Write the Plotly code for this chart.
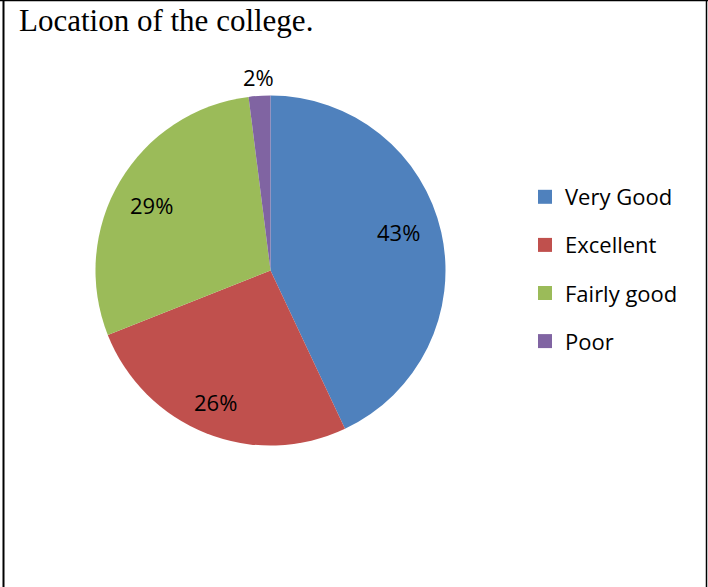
import math
import plotly.graph_objects as go

# ---- data ----
categories = ["Very Good", "Excellent", "Fairly good", "Poor"]
values = [43, 26, 29, 2]
colors = ["#4F81BD", "#C0504D", "#9BBB59", "#8064A2"]
title_text = "Location of the college."

# label placement: fraction of radius and angular nudge (deg) per slice
label_r = [0.765, 0.817, 0.776, 1.108]
label_dang = [-4.3, 1.0, -1.8, 0.0]

W, H = 708, 587
cx, cy, R = 270.5, 270.5, 175  # pixel centre / radius of the pie

fig = go.Figure()
fig.add_trace(go.Pie(
    labels=categories, values=values, sort=False, direction="clockwise",
    rotation=0, marker=dict(colors=colors, line=dict(width=0)),
    textinfo="none", hoverinfo="label+percent", showlegend=False,
    domain=dict(x=[(cx - R) / W, (cx + R) / W],
                y=[1 - (cy + R) / H, 1 - (cy - R) / H]),
))

# legend entries
for i, (c, col) in enumerate(zip(categories, colors)):
    fig.add_trace(go.Scatter(
        x=[None], y=[None], mode="markers", name=c, legendgroup=str(i),
        marker=dict(symbol="square", size=14, color=col),
    ))

# percentage labels
total = sum(values)
cum = 0
annotations = []
for v, rf, da in zip(values, label_r, label_dang):
    mid = math.radians((cum + v / 2) / total * 360 + da)
    cum += v
    px = cx + rf * R * math.sin(mid)
    py = cy - rf * R * math.cos(mid)
    annotations.append(dict(
        x=px / W, y=1 - py / H, xref="paper", yref="paper",
        text=f"{round(v / total * 100)}%", showarrow=False,
        font=dict(family="Open Sans", size=22, color="black"),
        xanchor="center", yanchor="middle",
    ))
annotations.append(dict(
    x=17 / W, y=1 - 1 / H, xref="paper", yref="paper", text=title_text,
    showarrow=False, xanchor="left", yanchor="top",
    font=dict(family="Liberation Serif", size=31, color="black"),
))

shapes = [
    dict(type="line", xref="paper", yref="paper", x0=3.5 / W, x1=3.5 / W, y0=0, y1=1,
         line=dict(color="black", width=2)),
    dict(type="line", xref="paper", yref="paper", x0=0, x1=1, y0=1 - 0.5 / H, y1=1 - 0.5 / H,
         line=dict(color="black", width=1.5)),
    dict(type="line", xref="paper", yref="paper", x0=706.5 / W, x1=706.5 / W, y0=0, y1=1,
         line=dict(color="black", width=1.5)),
]

fig.update_layout(
    width=W, height=H, margin=dict(l=0, r=0, t=0, b=0),
    paper_bgcolor="white", plot_bgcolor="white",
    xaxis=dict(visible=False), yaxis=dict(visible=False),
    showlegend=True,
    legend=dict(x=(545 - 20) / W, y=1 - 176 / H, xanchor="left", yanchor="top",
                font=dict(family="Open Sans", size=22, color="black"),
                tracegroupgap=16.5, itemwidth=30, bgcolor="rgba(0,0,0,0)"),
    annotations=annotations, shapes=shapes,
)

fig.write_html("out.html", config={"displayModeBar": False},
               post_script="document.body.style.margin='0px';")
